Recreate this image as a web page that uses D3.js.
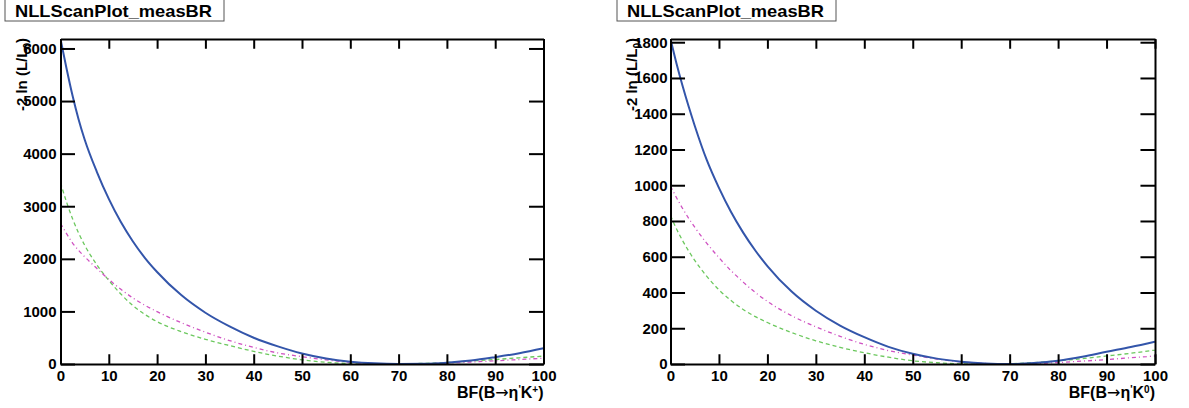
<html>
<meta charset="utf-8">
<head>
	<title>NLL scans</title>
	<script src="https://d3js.org/d3.v7.min.js"></script>
</head>
<body style="margin:0;background:#fff">
<svg id="canvas" width="1189" height="408"></svg>

<script>
	// BF grid shared by all curves (same points for both pads)
	var bf = [0, 1.25, 2.5, 3.75, 5, 7.5, 10, 12.5, 15, 17.5, 20, 25, 30, 35, 40, 45, 50, 55, 60, 65, 70, 75, 80, 85, 90, 95, 100];

	// pad 1: B -> eta' K+
	var kpTotal   = [6180, 5620, 5100, 4650, 4270, 3660, 3140, 2700, 2330, 2015, 1750, 1310, 975, 715, 500, 335, 200, 105, 45, 12, 0, 4, 25, 65, 130, 205, 298];
	var kpDashed  = [3450, 3080, 2760, 2490, 2260, 1890, 1590, 1330, 1110, 940, 805, 615, 470, 350, 240, 150, 80, 32, 8, 0, 2, 12, 30, 55, 85, 118, 150];
	var kpDashDot = [2675, 2480, 2300, 2160, 2040, 1820, 1610, 1420, 1255, 1115, 995, 785, 605, 445, 315, 210, 140, 78, 33, 8, 0, 5, 18, 38, 60, 85, 110];

	// pad 2: B -> eta' K0
	var k0Total   = [1818, 1680, 1555, 1440, 1333, 1140, 985, 850, 735, 635, 548, 405, 298, 215, 150, 96, 57, 30, 13, 3, 0, 5, 18, 40, 68, 95, 125];
	var k0Dashed  = [830, 755, 690, 632, 580, 490, 415, 355, 305, 265, 232, 176, 130, 93, 63, 38, 18, 7, 1, 0, 2, 8, 18, 30, 45, 60, 78];
	var k0DashDot = [995, 930, 870, 815, 765, 675, 595, 522, 458, 400, 350, 270, 208, 155, 110, 75, 50, 28, 12, 3, 0, 2, 8, 16, 25, 35, 45];

	var xMajor = [0, 10, 20, 30, 40, 50, 60, 70, 80, 90, 100];
	var kpYMajor = [0, 1000, 2000, 3000, 4000, 5000, 6000];
	var k0YMajor = [0, 200, 400, 600, 800, 1000, 1200, 1400, 1600, 1800];

	var plotTitle = "NLLScanPlot_measBR";

	var svg = d3.select("#canvas");
	var FONT = "'Liberation Sans', Arial, Helvetica, sans-serif";

	function minorTicks(lo, hi, step) {
		var out = [];
		for (var v = lo; v <= hi + 1e-9; v += step) out.push(+v.toFixed(6));
		return out;
	}

	function drawPad(p) {
		var g = svg.append("g");
		var x = d3.scaleLinear().domain([0, 100]).range([p.left, p.right]);
		var y = d3.scaleLinear().domain([0, p.ymax]).range([p.bottom, p.top]);
		var xLen = (p.bottom - p.top) * 0.03;
		var yLen = (p.right - p.left) * 0.03;

		// title box
		g.append("rect")
			.attr("x", p.boxX).attr("y", -1)
			.attr("width", 219).attr("height", 22)
			.attr("fill", "#fff").attr("stroke", "#555").attr("stroke-width", 1);
		g.append("text")
			.attr("x", p.boxX + 10).attr("y", 16.5)
			.attr("font-family", FONT).attr("font-weight", "bold").attr("font-size", 17)
			.attr("textLength", 197).attr("lengthAdjust", "spacingAndGlyphs")
			.text(plotTitle);

		// curves, clipped to the frame
		var clipId = "clip" + p.id;
		g.append("clipPath").attr("id", clipId).append("rect")
			.attr("x", p.left).attr("y", p.top)
			.attr("width", p.right - p.left).attr("height", p.bottom - p.top);

		var line = d3.line()
			.x(function (d, i) { return x(bf[i]); })
			.y(function (d) { return y(d); })
			.curve(d3.curveMonotoneX);

		var curves = [
			{ vals: p.dashed, color: "#6cc85e", width: 1.3, dash: "4,3" },
			{ vals: p.dashdot, color: "#cf52c2", width: 1.3, dash: "4,3,1,3" },
			{ vals: p.total, color: "#3355aa", width: 2, dash: null }
		];
		curves.forEach(function (c) {
			g.append("path")
				.attr("clip-path", "url(#" + clipId + ")")
				.attr("d", line(c.vals))
				.attr("fill", "none")
				.attr("stroke", c.color)
				.attr("stroke-width", c.width)
				.attr("stroke-dasharray", c.dash);
		});

		// axes: major + minor, ticks pointing inside on all four sides
		var xMinor = minorTicks(0, 100, 2);
		var yMinor = minorTicks(0, p.ymax, p.yMinorStep);
		var fmt = d3.format("d");

		var bottom = g.append("g").attr("transform", "translate(0," + p.bottom + ")");
		bottom.call(d3.axisBottom(x).tickValues(xMinor).tickSize(-xLen / 2).tickSizeOuter(0).tickFormat(""));
		bottom.call(d3.axisBottom(x).tickValues(xMajor).tickSize(-xLen).tickSizeOuter(0).tickPadding(6).tickFormat(fmt));

		var top = g.append("g").attr("transform", "translate(0," + p.top + ")");
		top.call(d3.axisTop(x).tickValues(xMinor).tickSize(-xLen / 2).tickSizeOuter(0).tickFormat(""));
		top.call(d3.axisTop(x).tickValues(xMajor).tickSize(-xLen).tickSizeOuter(0).tickFormat(""));

		var left = g.append("g").attr("transform", "translate(" + p.left + ",0)");
		left.call(d3.axisLeft(y).tickValues(yMinor).tickSize(-yLen / 2).tickSizeOuter(0).tickFormat(""));
		left.call(d3.axisLeft(y).tickValues(p.yMajor).tickSize(-yLen).tickSizeOuter(0).tickPadding(p.labelGap).tickFormat(fmt));

		var right = g.append("g").attr("transform", "translate(" + p.right + ",0)");
		right.call(d3.axisRight(y).tickValues(yMinor).tickSize(-yLen / 2).tickSizeOuter(0).tickFormat(""));
		right.call(d3.axisRight(y).tickValues(p.yMajor).tickSize(-yLen).tickSizeOuter(0).tickFormat(""));

		g.selectAll(".domain").attr("stroke", "#000").attr("stroke-width", 2);
		g.selectAll(".tick line").attr("stroke", "#000").attr("stroke-width", 2);
		g.selectAll(".tick text")
			.attr("font-family", FONT).attr("font-weight", "bold").attr("font-size", 15).attr("fill", "#000");

		// y title
		var yt = g.append("text")
			.attr("transform", "translate(" + p.yTitleX + "," + (p.top - 1) + ") rotate(-90)")
			.attr("text-anchor", "end")
			.attr("font-family", FONT).attr("font-weight", "bold").attr("font-size", 15);
		yt.append("tspan").text("-2 ln (L/L");
		yt.append("tspan").attr("font-size", 10).attr("dy", 4).text("0");
		yt.append("tspan").attr("dy", -4).text(")");

		// x title
		var xt = g.append("text")
			.attr("x", p.right).attr("y", 398)
			.attr("text-anchor", "end")
			.attr("font-family", FONT).attr("font-weight", "bold").attr("font-size", 16);
		xt.append("tspan").text("BF(B");
		xt.append("tspan").attr("font-family", "'DejaVu Sans', sans-serif").attr("font-weight", "normal").text("\u2192");
		xt.append("tspan").text("\u03b7");
		xt.append("tspan").attr("font-size", 10).attr("dy", -5).text("'");
		xt.append("tspan").attr("dy", 5).text("K");
		xt.append("tspan").attr("font-size", 10).attr("dy", -5).text(p.charge);
		xt.append("tspan").attr("dy", 5).text(")");
	}

	drawPad({
		id: 1, left: 60.5, right: 543.5, top: 39, bottom: 364,
		ymax: 6180, yMajor: kpYMajor, yMinorStep: 200, labelGap: 4,
		total: kpTotal, dashed: kpDashed, dashdot: kpDashDot,
		boxX: 5, yTitleX: 27, charge: "+"
	});

	drawPad({
		id: 2, left: 670.5, right: 1155, top: 39, bottom: 364,
		ymax: 1818, yMajor: k0YMajor, yMinorStep: 50, labelGap: 3,
		total: k0Total, dashed: k0Dashed, dashdot: k0DashDot,
		boxX: 617, yTitleX: 637, charge: "0"
	});
</script>
</body>
</html>
